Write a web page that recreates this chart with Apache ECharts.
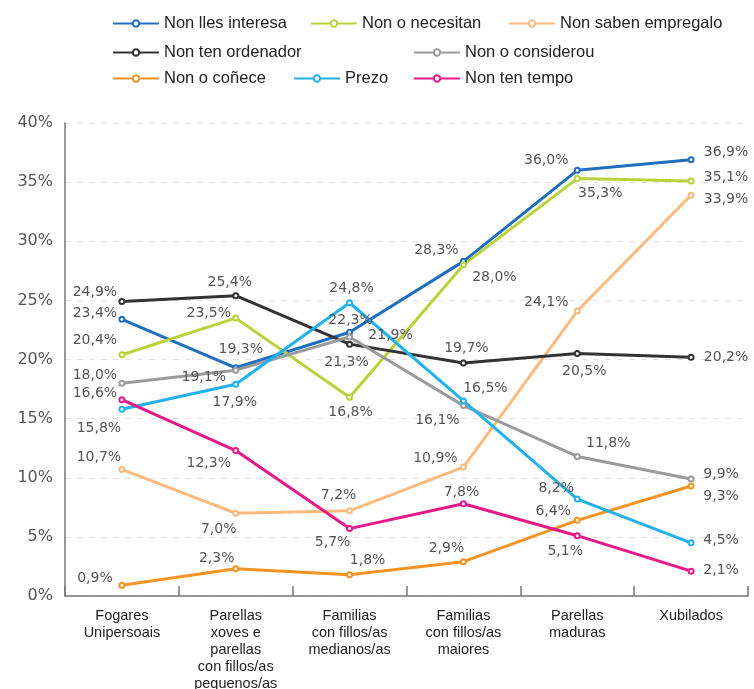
<!DOCTYPE html>
<html>
<head>
<meta charset="utf-8">
<script src="https://cdn.jsdelivr.net/npm/echarts@6/dist/echarts.min.js"></script>
<style>
  html, body { margin: 0; padding: 0; background: #fff; }
  #chart { width: 754px; height: 689px; }
</style>
</head>
<body>
<div id="chart"></div>
<script>
// Household types
const categories = [
  'Fogares\nUnipersoais',
  'Parellas\nxoves e\nparellas\ncon fillos/as\npequenos/as',
  'Familias\ncon fillos/as\nmedianos/as',
  'Familias\ncon fillos/as\nmaiores',
  'Parellas\nmaduras',
  'Xubilados'
];

// Share of households (%) giving each reason
const nonLlesInteresa   = [23.4, 19.3, 22.3, 28.3, 36.0, 36.9];
const nonONecesitan     = [20.4, 23.5, 16.8, 28.0, 35.3, 35.1];
const nonSabenEmpregalo = [10.7, 7.0, 7.2, 10.9, 24.1, 33.9];
const nonTenOrdenador   = [24.9, 25.4, 21.3, 19.7, 20.5, 20.2];
const nonOConsiderou    = [18.0, 19.1, 21.9, 16.1, 11.8, 9.9];
const nonOConece        = [0.9, 2.3, 1.8, 2.9, 6.4, 9.3];
const prezo             = [15.8, 17.9, 24.8, 16.5, 8.2, 4.5];
const nonTenTempo       = [16.6, 12.3, 5.7, 7.8, 5.1, 2.1];

const yTicks = { min: 0, max: 40, interval: 5 };

// Series definitions: name, values, colour, label offsets from each point
const seriesDefs = [
  { name: 'Non lles interesa', data: nonLlesInteresa, color: '#1f6fc0',
    off: [[-27,-6],[5,-18],[1,-12],[-27,-11],[-31,-10],[35,-7]] },
  { name: 'Non o necesitan', data: nonONecesitan, color: '#b8d33a',
    off: [[-27,-14],[-27,-5],[1,15],[31,12],[23,15],[35,-4]] },
  { name: 'Non saben empregalo', data: nonSabenEmpregalo, color: '#fbbb7f',
    off: [[-23,-12],[-17,16],[-11,-16],[-28,-9],[-31,-9],[35,4]] },
  { name: 'Non ten ordenador', data: nonTenOrdenador, color: '#333333',
    off: [[-27,-9],[-6,-13],[-3,18],[3,-15],[7,18],[35,0]] },
  { name: 'Non o considerou', data: nonOConsiderou, color: '#9b9b9b',
    off: [[-27,-8],[-32,7],[41,-2],[-26,15],[31,-13],[30,-5]] },
  { name: 'Non o coñece', data: nonOConece, color: '#f39322',
    off: [[-27,-7],[-19,-10],[18,-14],[-17,-13],[-24,-9],[30,10]] },
  { name: 'Prezo', data: prezo, color: '#21b1ec',
    off: [[-23,19],[-1,18],[2,-14],[22,-13],[-21,-11],[30,-2]] },
  { name: 'Non ten tempo', data: nonTenTempo, color: '#e5198a',
    off: [[-27,-6],[-27,13],[-17,14],[-2,-11],[-12,16],[30,-1]] }
];

const fmt = v => v.toFixed(1).replace('.', ',') + '%';

const series = seriesDefs.map(d => ({
  name: d.name,
  type: 'line',
  color: d.color,
  symbol: 'emptyCircle',
  symbolSize: 5,
  lineStyle: { width: 3, color: d.color },
  itemStyle: { color: d.color, borderWidth: 1.5 },
  data: d.data.map((v, i) => ({
    value: v,
    label: {
      show: true,
      position: 'inside',
      offset: d.off[i],
      formatter: () => fmt(v),
      color: '#555',
      fontFamily: 'DejaVu Sans',
      fontSize: 14,
      align: 'center',
      verticalAlign: 'middle'
    }
  })),
  animation: false
}));

// Legend placement: three rows (left edge of icon, vertical centre)
const legendRows = [
  { name: 'Non lles interesa', left: 112, cy: 23 },
  { name: 'Non o necesitan', left: 310, cy: 23 },
  { name: 'Non saben empregalo', left: 508, cy: 23 },
  { name: 'Non ten ordenador', left: 112, cy: 52 },
  { name: 'Non o considerou', left: 413, cy: 52 },
  { name: 'Non o coñece', left: 112, cy: 78 },
  { name: 'Prezo', left: 293, cy: 78 },
  { name: 'Non ten tempo', left: 413, cy: 78 }
];

const legend = legendRows.map(r => ({
  data: [r.name],
  left: r.left,
  top: r.cy - 8,
  padding: 0,
  itemWidth: 46,
  itemHeight: 8,
  textStyle: { fontFamily: 'Liberation Sans', fontSize: 16.5, color: '#222', padding: [0, 0, 0, 0] },
  selectedMode: false
}));

const chart = echarts.init(document.getElementById('chart'));
chart.setOption({
  backgroundColor: '#fff',
  animation: false,
  legend: legend,
  grid: { left: 65, right: 6, top: 123, bottom: 93, containLabel: false, outerBoundsMode: 'none' },
  xAxis: {
    type: 'category',
    data: categories,
    boundaryGap: true,
    axisLine: { show: true, lineStyle: { color: '#777', width: 1.5 } },
    axisTick: { show: true, inside: true, length: 10, lineStyle: { color: '#777', width: 1.5 } },
    axisLabel: {
      interval: 0,
      margin: 11,
      fontFamily: 'Liberation Sans',
      fontSize: 14.5,
      lineHeight: 17,
      color: '#222'
    },
    splitLine: { show: false }
  },
  yAxis: {
    type: 'value',
    min: yTicks.min,
    max: yTicks.max,
    interval: yTicks.interval,
    axisLine: { show: true, lineStyle: { color: '#777', width: 1.5 } },
    axisTick: { show: false },
    axisLabel: {
      formatter: '{value}%',
      margin: 12,
      fontFamily: 'DejaVu Sans',
      fontSize: 16,
      color: '#555'
    },
    splitLine: { show: true, lineStyle: { color: '#e2e2e2', type: [6, 6], width: 1 } }
  },
  series: series
});
</script>
</body>
</html>
